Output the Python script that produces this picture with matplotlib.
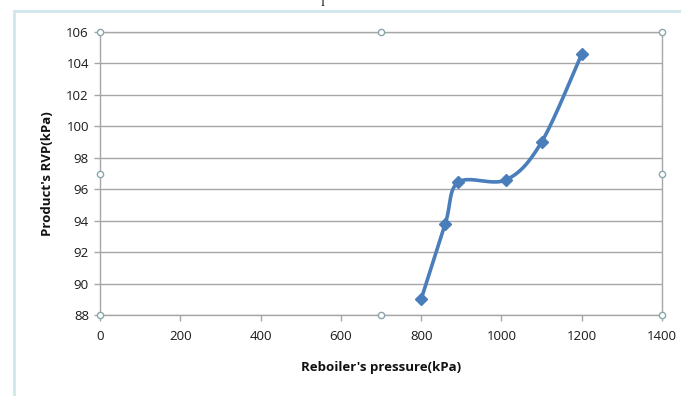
import matplotlib.pyplot as plt
import numpy as np
from matplotlib.lines import Line2D

pressure = [800, 860, 893, 1012, 1100, 1200]
rvp = [89.0, 93.8, 96.45, 96.6, 99.0, 104.6]
x_ticks = [0, 200, 400, 600, 800, 1000, 1200, 1400]
y_ticks = [88, 90, 92, 94, 96, 98, 100, 102, 104, 106]

blue = '#4A7EBB'
grid_gray = '#A6A6A6'


def smooth_curve(xs, ys, n=40):
    # Catmull-Rom through the points, close to Excel's smoothed line
    pts = np.column_stack([xs, ys]).astype(float)
    p = np.vstack([pts[0], pts, pts[-1]])
    out = []
    for i in range(1, len(p) - 2):
        p0, p1, p2, p3 = p[i - 1], p[i], p[i + 1], p[i + 2]
        t = np.linspace(0, 1, n)[:, None]
        seg = 0.5 * ((2 * p1) + (-p0 + p2) * t + (2 * p0 - 5 * p1 + 4 * p2 - p3) * t ** 2
                     + (-p0 + 3 * p1 - 3 * p2 + p3) * t ** 3)
        out.append(seg)
    out = np.vstack(out)
    return out[:, 0], out[:, 1]


plt.rcParams['font.family'] = ['Open Sans', 'DejaVu Sans']

fig = plt.figure(figsize=(6.81, 3.96), dpi=100)
ax = fig.add_axes([100 / 681, 1 - 315 / 396, 562 / 681, 283 / 396])

sx, sy = smooth_curve(pressure, rvp)
ax.plot(sx, sy, color=blue, linewidth=2.6, solid_capstyle='round', zorder=3)
ax.plot(pressure, rvp, linestyle='none', marker='D', markersize=6.5,
        color=blue, zorder=4)

ax.set_xlim(0, 1400)
ax.set_ylim(88, 106)
ax.set_xticks(x_ticks)
ax.set_yticks(y_ticks)
ax.yaxis.grid(True, color=grid_gray, linewidth=1)
ax.set_axisbelow(True)
for side in ['left', 'bottom', 'right', 'top']:
    ax.spines[side].set_color(grid_gray)
    ax.spines[side].set_linewidth(1)
ax.tick_params(axis='both', colors=grid_gray, labelcolor='#1a1a1a',
               labelsize=9.5, length=4, width=1)
ax.tick_params(axis='x', pad=7)
ax.tick_params(axis='y', pad=4)

ax.set_xlabel("Reboiler's pressure(kPa)", fontsize=9.5, fontweight='bold',
              labelpad=13, color='#111111')
ax.set_ylabel("Product's RVP(kPa)", fontsize=9.5, fontweight='bold',
              labelpad=9, color='#111111')

# selection handles on the plot area
hx = [0, 0.5, 1, 0, 1, 0, 0.5, 1]
hy = [1, 1, 1, 0.5, 0.5, 0, 0, 0]
ax.plot(hx, hy, linestyle='none', marker='o', markersize=4.5,
        markerfacecolor='white', markeredgecolor='#8AA6AC', markeredgewidth=1,
        transform=ax.transAxes, clip_on=False, zorder=5)

# chart frame
W, H = 681, 396
frame_color = '#CFE6EB'
fig.add_artist(Line2D([14 / W, 14 / W], [0, 1 - 11 / H], color=frame_color,
                      linewidth=2, transform=fig.transFigure))
fig.add_artist(Line2D([14 / W, 1], [1 - 11 / H, 1 - 11 / H], color=frame_color,
                      linewidth=2, transform=fig.transFigure))
fig.text(322 / W, 1 - 4 / H, 'I', fontsize=7, family='DejaVu Serif',
         ha='center', va='center', color='black')

fig.savefig('out.png', dpi=100)
